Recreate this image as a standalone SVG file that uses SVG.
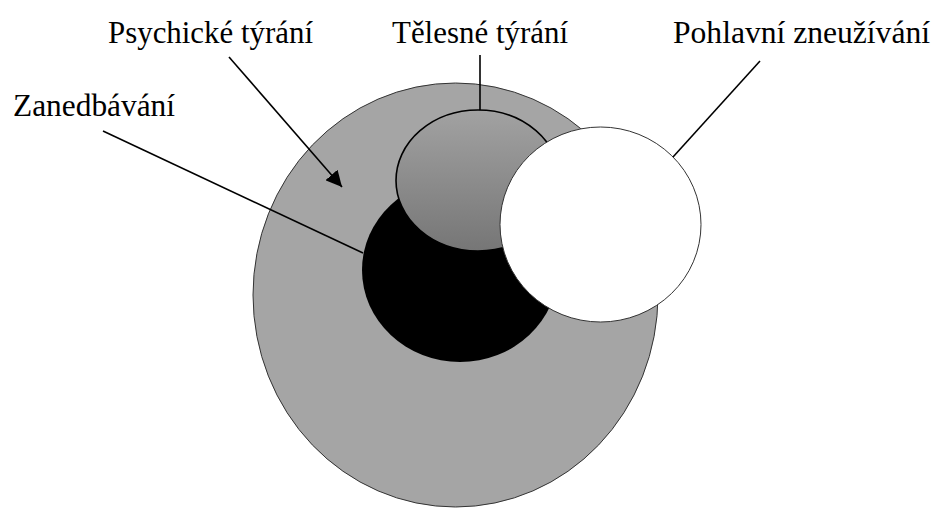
<svg xmlns="http://www.w3.org/2000/svg" width="934" height="508" viewBox="0 0 934 508">
<style>
.conn{stroke:#000;stroke-width:1.6;fill:none}
.lbl{font-family:"Liberation Serif",Tinos,"Times New Roman",Times,serif;font-size:32px;fill:#000}
</style>
<defs>
<linearGradient id="g" x1="0" y1="0" x2="0" y2="1">
<stop offset="0" stop-color="#a2a2a2"/>
<stop offset="1" stop-color="#767676"/>
</linearGradient>
<marker id="arr" viewBox="0 0 10 10" refX="10" refY="5" markerWidth="16" markerHeight="16" markerUnits="userSpaceOnUse" orient="auto">
<path d="M0,0 L10,5 L0,10 z" fill="#000"/>
</marker>
</defs>
<rect width="934" height="508" fill="#fff"/>
<g id="psychicke">
<ellipse cx="455.5" cy="295" rx="202.5" ry="212" fill="#a5a5a5" stroke="#333" stroke-width="1"/>
</g>
<g id="zanedbavani">
<ellipse cx="460" cy="270" rx="98" ry="92" fill="#000"/>
</g>
<g id="telesne">
<ellipse cx="478" cy="180.5" rx="82" ry="70.5" fill="url(#g)" stroke="#000" stroke-width="1.6"/>
</g>
<g id="pohlavni">
<ellipse cx="600.5" cy="224.5" rx="100.5" ry="97.5" fill="#fff" stroke="#333" stroke-width="1"/>
</g>
<g id="connectors">
<line class="conn" x1="229" y1="57" x2="342" y2="187" marker-end="url(#arr)"/>
<line class="conn" x1="103" y1="131" x2="363" y2="253"/>
<line class="conn" x1="480" y1="55" x2="480" y2="110"/>
<line class="conn" x1="673" y1="157" x2="760" y2="61"/>
</g>
<g id="labels">
<text class="lbl" x="108" y="43" textLength="205" lengthAdjust="spacingAndGlyphs">Psychické týrání</text>
<text class="lbl" x="392" y="43" textLength="176" lengthAdjust="spacingAndGlyphs">Tělesné týrání</text>
<text class="lbl" x="673" y="43" textLength="257" lengthAdjust="spacingAndGlyphs">Pohlavní zneužívání</text>
<text class="lbl" x="13" y="116" textLength="162" lengthAdjust="spacingAndGlyphs">Zanedbávání</text>
</g>
</svg>
